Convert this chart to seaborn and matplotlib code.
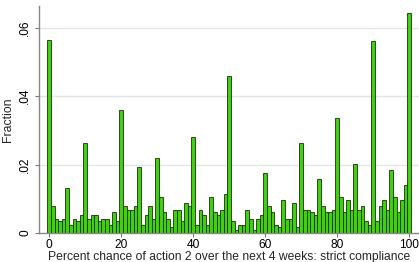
import matplotlib
matplotlib.use("Agg")
import matplotlib.pyplot as plt
import numpy as np
import pandas as pd
import seaborn as sns

# percent chance answers 0..100 and the share of respondents giving each
percent = list(range(101))
fraction = [
    0.0565, 0.0078, 0.0042, 0.0034, 0.0042, 0.0132, 0.0024, 0.0042, 0.0034, 0.0051,
    0.0264, 0.0042, 0.0051, 0.0051, 0.0034, 0.0042, 0.0042, 0.0024, 0.0060, 0.0034,
    0.0361, 0.0078, 0.0068, 0.0068, 0.0078, 0.0193, 0.0024, 0.0051, 0.0078, 0.0042,
    0.0220, 0.0105, 0.0060, 0.0042, 0.0016, 0.0068, 0.0068, 0.0034, 0.0087, 0.0078,
    0.0282, 0.0024, 0.0068, 0.0051, 0.0024, 0.0105, 0.0060, 0.0051, 0.0068, 0.0113,
    0.0458, 0.0034, 0.0008, 0.0024, 0.0024, 0.0068, 0.0042, 0.0008, 0.0042, 0.0051,
    0.0176, 0.0078, 0.0060, 0.0024, 0.0016, 0.0096, 0.0042, 0.0042, 0.0087, 0.0016,
    0.0264, 0.0068, 0.0068, 0.0060, 0.0051, 0.0158, 0.0078, 0.0060, 0.0060, 0.0068,
    0.0335, 0.0105, 0.0060, 0.0096, 0.0068, 0.0202, 0.0068, 0.0078, 0.0034, 0.0024,
    0.0563, 0.0034, 0.0078, 0.0096, 0.0068, 0.0184, 0.0105, 0.0060, 0.0096, 0.0140,
    0.0643,
]
x_ticks = [0, 20, 40, 60, 80, 100]
y_ticks = [0, 0.02, 0.04, 0.06]
y_labels = ["0", ".02", ".04", ".06"]

df = pd.DataFrame({"percent": percent, "fraction": fraction})

sns.set_theme(style="white")
plt.rcParams["font.family"] = ["Liberation Sans", "DejaVu Sans"]

fig = plt.figure(figsize=(4.19, 2.62), dpi=100)
ax = fig.add_axes([0.093, 0.111, 0.907, 0.866])

for y in y_ticks[1:]:
    ax.axhline(y, color="#dfe6ea", linewidth=1.0, zorder=0)

sns.histplot(
    data=df, x="percent", weights="fraction", discrete=True, stat="count",
    color="#3fd012", edgecolor="#173304", linewidth=0.6, alpha=1.0, ax=ax,
)

ax.set_xlim(-2.85, 102.7)
ax.set_ylim(0, 0.0664)
ax.set_xticks(x_ticks)
ax.set_yticks(y_ticks)
ax.set_yticklabels(y_labels, rotation=90, va="center")
ax.tick_params(axis="both", direction="out", length=3, width=0.8,
               color="#777777", labelsize=8.6, pad=1.5, labelcolor="black")
ax.tick_params(axis="x", bottom=True)
ax.tick_params(axis="y", left=True, pad=2.5)

for side in ["top", "right"]:
    ax.spines[side].set_visible(False)
for side in ["left", "bottom"]:
    ax.spines[side].set_color("#888888")
    ax.spines[side].set_linewidth(1.0)

ax.set_xlabel("Percent chance of action 2 over the next 4 weeks: strict compliance",
              fontsize=8.7, labelpad=0)
ax.set_ylabel("Fraction", fontsize=8.8, labelpad=4)

fig.savefig("out.png", dpi=100)
